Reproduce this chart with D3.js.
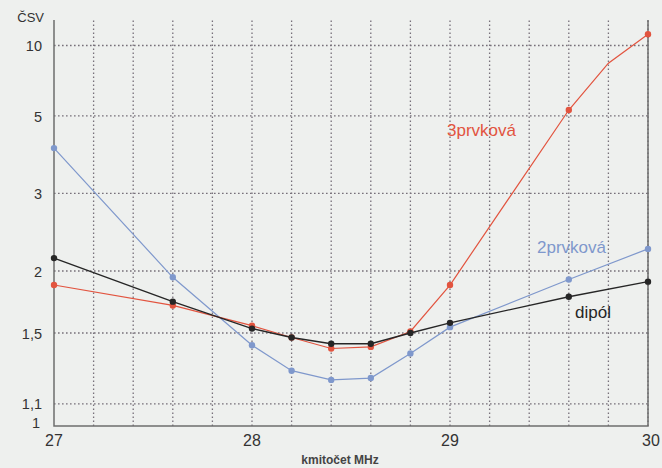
<!DOCTYPE html>
<html>
<head>
<meta charset="utf-8">
<script src="https://cdn.jsdelivr.net/npm/d3@7"></script>
<style>
  html, body { margin: 0; padding: 0; background: #eef0ee; }
  svg { display: block; }
  text { font-family: "Liberation Sans", Arial, sans-serif; }
</style>
</head>
<body>
<script>
// Frequency points (MHz) and standing-wave ratio for each antenna
const freq = [27, 27.6, 28, 28.2, 28.4, 28.6, 28.8, 29, 29.6, 30];
const dipol = [2.13, 1.73, 1.53, 1.47, 1.43, 1.43, 1.50, 1.57, 1.77, 1.90];
const prvkova2 = [3.97, 1.94, 1.42, 1.27, 1.22, 1.23, 1.37, 1.54, 1.92, 2.23];
const freq3 = [27, 27.6, 28, 28.2, 28.4, 28.6, 28.8, 29, 29.6, 29.8, 30];
const prvkova3 = [1.87, 1.70, 1.55, 1.47, 1.40, 1.41, 1.51, 1.87, 5.24, 8.1, 11.7];
const unmarked3 = [29.8];

const yTicks = [1, 1.1, 1.5, 2, 3, 5, 10];
const yTickLabels = ["1", "1,1", "1,5", "2", "3", "5", "10"];
const xTicks = [27, 28, 29, 30];
const xGrid = d3.range(27.2, 30, 0.2);

const W = 662, H = 468;
const margin = { left: 54, right: 14, top: 20, bottom: 42 };

const svg = d3.select("body").append("svg").attr("width", W).attr("height", H);

// SWR axis is linear in reflection coefficient |rho| = (s-1)/(s+1)
const rho = s => (s - 1) / (s + 1);
const x = d3.scaleLinear().domain([27, 30]).range([margin.left, W - margin.right]);
const yr = d3.scaleLinear().domain([0, 0.873]).range([H - margin.bottom, margin.top]);
const y = s => yr(rho(s));

const gridColor = "#77707a";

// horizontal grid
svg.append("g").selectAll("line").data(yTicks.filter(v => v > 1)).join("line")
  .attr("x1", x(27)).attr("x2", x(30))
  .attr("y1", d => y(d)).attr("y2", d => y(d))
  .attr("stroke", gridColor).attr("stroke-width", 1.3)
  .attr("stroke-dasharray", "1.6,2.4");

// vertical grid
svg.append("g").selectAll("line").data(xGrid).join("line")
  .attr("x1", d => x(d)).attr("x2", d => x(d))
  .attr("y1", yr(0)).attr("y2", margin.top)
  .attr("stroke", gridColor).attr("stroke-width", 1.3)
  .attr("stroke-dasharray", "1.6,2.4");

// frame: left, bottom, right
const frame = d3.path();
frame.moveTo(x(27), margin.top);
frame.lineTo(x(27), yr(0));
frame.lineTo(x(30), yr(0));
frame.lineTo(x(30), margin.top);
svg.append("path").attr("d", frame.toString())
  .attr("fill", "none").attr("stroke", "#6d6d6d").attr("stroke-width", 1.5);

// y tick labels
svg.append("g").selectAll("text").data(yTicks).join("text")
  .attr("x", d => d === 1 ? margin.left - 14 : margin.left - 12)
  .attr("y", d => d === 1 ? y(d) + 2 : (d === 1.1 ? y(d) + 5 : y(d) + 6))
  .attr("text-anchor", "end")
  .attr("font-size", 14.5).attr("fill", "#333")
  .text((d, i) => yTickLabels[i]);

svg.append("text").attr("x", 44).attr("y", 22).attr("text-anchor", "end")
  .attr("font-size", 13).attr("fill", "#333").text("ČSV");

// x tick labels
svg.append("g").selectAll("text").data(xTicks).join("text")
  .attr("x", d => d === 30 ? x(d) + 3 : x(d))
  .attr("y", yr(0) + 20)
  .attr("text-anchor", "middle")
  .attr("font-size", 16).attr("fill", "#333")
  .text(d => d);

svg.append("text").attr("x", 340).attr("y", 464).attr("text-anchor", "middle")
  .attr("font-size", 12).attr("font-weight", "bold").attr("fill", "#444")
  .text("kmitočet MHz");

const line = d3.line().x(d => x(d[0])).y(d => y(d[1]));

function drawSeries(xs, vs, color, width, skip) {
  const pts = xs.map((f, i) => [f, vs[i]]);
  svg.append("path").datum(pts).attr("d", line)
    .attr("fill", "none").attr("stroke", color).attr("stroke-width", width);
  svg.append("g").selectAll("circle").data(pts.filter(p => !skip.includes(p[0]))).join("circle")
    .attr("cx", d => x(d[0])).attr("cy", d => y(d[1])).attr("r", 3.2)
    .attr("fill", color);
}

drawSeries(freq, prvkova2, "#7f98cc", 1.2, []);
drawSeries(freq3, prvkova3, "#e2543f", 1.2, unmarked3);
drawSeries(freq, dipol, "#262626", 1.4, []);

// series labels
svg.append("text").attr("x", 447).attr("y", 136).attr("font-size", 17)
  .attr("fill", "#e2543f").text("3prvková");
svg.append("text").attr("x", 537).attr("y", 253).attr("font-size", 17)
  .attr("fill", "#7f98cc").text("2prvková");
svg.append("text").attr("x", 575).attr("y", 318).attr("font-size", 17)
  .attr("fill", "#262626").text("dipól");
</script>
</body>
</html>
